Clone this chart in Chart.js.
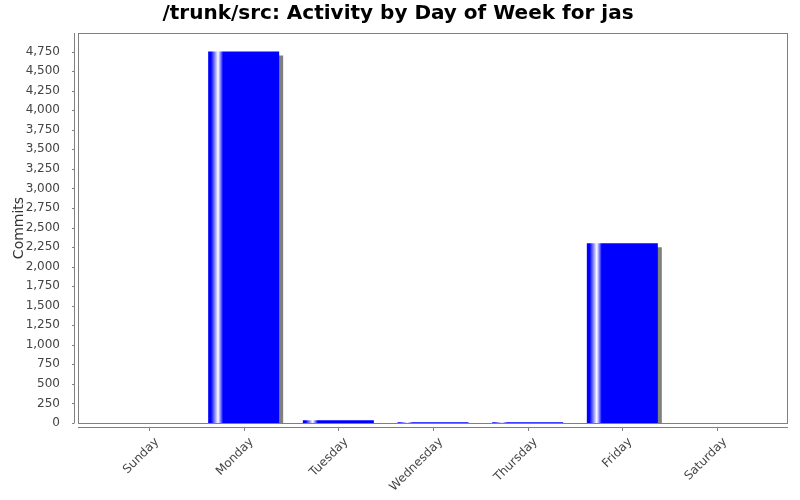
<!DOCTYPE html>
<html>
<head>
<meta charset="utf-8">
<script src="https://cdn.jsdelivr.net/npm/chart.js@4"></script>
<style>
  body { margin: 0; background: #fff; }
  #wrap { width: 800px; height: 500px; }
</style>
</head>
<body>
<div id="wrap"><canvas id="myChart"></canvas></div>
<script>
  // values
  let days = ["Sunday", "Monday", "Tuesday", "Wednesday", "Thursday", "Friday", "Saturday"];
  let commits = [1, 4750, 35, 10, 8, 2300, 0];
  let tickStep = 250;
  let axisMax = 4987.5;

  let points = days.map(function (d, i) { return { x: i, y: commits[i] }; });

  // JFreeChart-like gradient across each bar
  function barFill(ctx) {
    let chart = ctx.chart;
    let area = chart.chartArea;
    if (!area || ctx.dataIndex === undefined) return "#0000ff";
    let xs = chart.scales.x;
    let step = xs.getPixelForValue(1) - xs.getPixelForValue(0);
    let w = step * 0.75;
    let cx = xs.getPixelForValue(ctx.dataIndex);
    let x0 = cx - w / 2;
    let g = chart.ctx.createLinearGradient(x0, 0, x0 + w, 0);
    g.addColorStop(0, "#0000ff");
    g.addColorStop(0.04, "#0000ff");
    g.addColorStop(0.14, "#ffffff");
    g.addColorStop(0.21, "#0000ff");
    g.addColorStop(1, "#0000ff");
    return g;
  }

  let frame = {
    id: "frame",
    beforeDatasetsDraw: function (chart) {
      let c = chart.ctx;
      c.save();
      c.shadowColor = "#808080";
      c.shadowOffsetX = 4;
      c.shadowOffsetY = 4;
      c.shadowBlur = 0;
    },
    afterDatasetsDraw: function (chart) {
      chart.ctx.restore();
    },
    afterDraw: function (chart) {
      let c = chart.ctx;
      let a = chart.chartArea;
      let ys = chart.scales.y;
      let xs = chart.scales.x;
      c.save();
      c.strokeStyle = "#808080";
      c.lineWidth = 1;
      // plot outline
      c.strokeRect(a.left + 0.5, a.top + 0.5, a.right - a.left - 1, a.bottom - a.top);
      // value axis, set off 4px
      c.beginPath();
      c.moveTo(a.left - 3.5, a.top);
      c.lineTo(a.left - 3.5, a.bottom);
      ys.ticks.forEach(function (t) {
        let y = Math.round(ys.getPixelForValue(t.value)) + 0.5;
        c.moveTo(a.left - 6, y);
        c.lineTo(a.left - 3.5, y);
      });
      // category axis
      c.moveTo(a.left, a.bottom + 4.5);
      c.lineTo(a.right, a.bottom + 4.5);
      xs.ticks.forEach(function (t) {
        let x = Math.round(xs.getPixelForValue(t.value)) + 0.5;
        c.moveTo(x, a.bottom + 4.5);
        c.lineTo(x, a.bottom + 8);
      });
      c.stroke();
      c.restore();
    }
  };

  let mychart = document.getElementById("myChart").getContext("2d");
  let chart = new Chart(mychart, {
    type: "bar",
    data: {
      datasets: [
        {
          data: points,
          backgroundColor: barFill,
          borderWidth: 0,
          barPercentage: 0.75,
          categoryPercentage: 1,
        },
      ],
    },
    options: {
      responsive: true,
      maintainAspectRatio: false,
      animation: false,
      layout: { padding: { left: 8, right: 12, top: 0, bottom: 0 } },
      plugins: {
        legend: { display: false },
        tooltip: { enabled: false },
        title: {
          display: true,
          text: "/trunk/src: Activity by Day of Week for jas",
          color: "#000",
          font: { family: "DejaVu Sans", size: 20, weight: "bold" },
          padding: { top: 2, bottom: 7 },
        },
      },
      scales: {
        x: {
          type: "linear",
          offset: false,
          min: -0.75,
          max: 6.75,
          grid: { display: false },
          border: { display: false },
          afterFit: function (s) { s.height = 77; },
          ticks: {
            stepSize: 1,
            includeBounds: false,
            autoSkip: false,
            minRotation: 45,
            maxRotation: 45,
            padding: 4,
            labelOffset: 8,
            color: "#444",
            font: { family: "DejaVu Sans", size: 12 },
            callback: function (v) { return days[v]; },
          },
        },
        y: {
          min: 0,
          max: 5000,
          grid: { display: false },
          border: { display: false },
          afterFit: function (s) { s.width = 70; },
          afterBuildTicks: function (s) {
            s.max = axisMax;
            s.ticks = s.ticks.filter(function (t) { return t.value <= axisMax; });
          },
          title: {
            display: true,
            text: "Commits",
            color: "#333",
            font: { family: "DejaVu Sans", size: 14 },
            padding: { top: 3, bottom: 0 },
          },
          ticks: {
            stepSize: tickStep,
            includeBounds: false,
            padding: 10,
            color: "#444",
            font: { family: "DejaVu Sans", size: 12 },
            callback: function (v) { return v.toLocaleString("en-US"); },
          },
        },
      },
    },
    plugins: [frame],
  });
</script>
</body>
</html>
